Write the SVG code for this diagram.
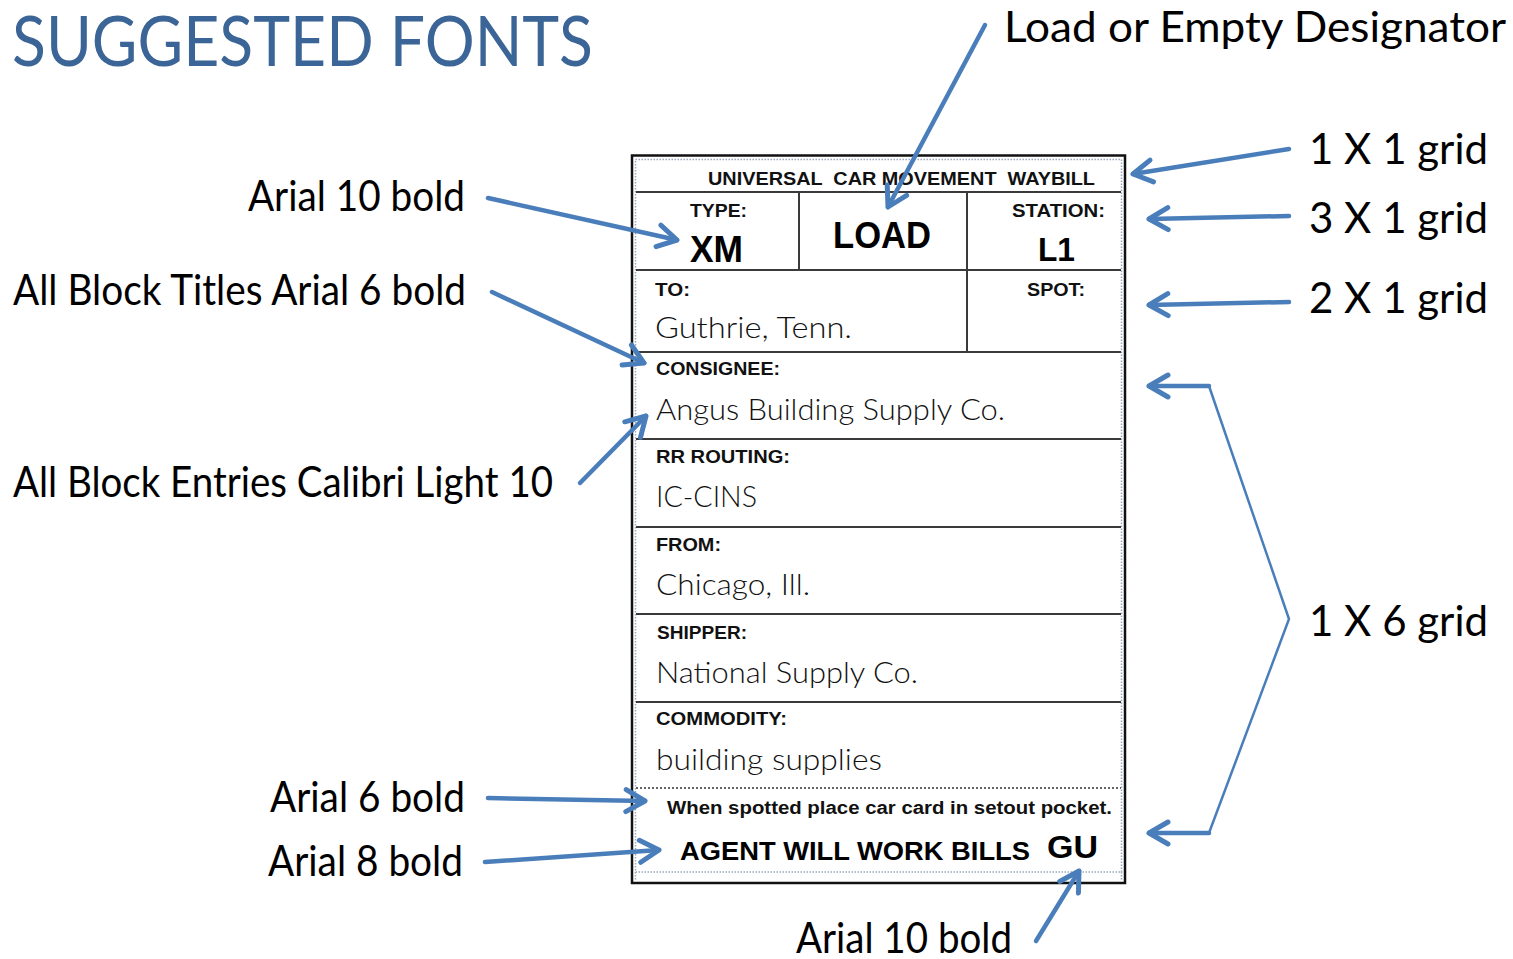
<svg xmlns="http://www.w3.org/2000/svg" width="1513" height="959" viewBox="0 0 1513 959">
<defs>
<style>
.ann{font-family:Lato,"Open Sans","Liberation Sans",sans-serif;font-size:42px;fill:#000}
.ttl{font-family:Lato,"Open Sans","Liberation Sans",sans-serif;font-size:69px;fill:#3b6497}
.lb{font-family:"Liberation Sans",Arial,sans-serif;font-weight:bold;font-size:18px;fill:#111}
.big{font-family:"Liberation Sans",Arial,sans-serif;font-weight:bold;font-size:36px;fill:#000}
.b34{font-size:34px}
.b25{font-size:25px}
.b31{font-size:31px}
.ent{font-family:Lato,"Open Sans","Liberation Sans",sans-serif;font-weight:300;font-size:30px;fill:#111}
.grid{stroke:#3a3a3a;stroke-width:2;fill:none}
.dot{stroke:#9aa8c2;stroke-width:1.5;stroke-dasharray:1.5 1.5;fill:none}
.con{stroke:#4a7ebb;stroke-width:4.5;fill:none;stroke-linecap:round}
.brk{stroke:#4a7ebb;stroke-width:2.5;fill:none;stroke-linejoin:miter}
</style>
<marker id="ah" markerUnits="userSpaceOnUse" viewBox="-26 -15 30 30" refX="0" refY="0" markerWidth="30" markerHeight="30" orient="auto">
<path d="M-19,-11 L0,0 L-19,11" fill="none" stroke="#4a7ebb" stroke-width="5" stroke-linecap="round" stroke-linejoin="round"/>
</marker>
</defs>
<rect width="1513" height="959" fill="#fff"/>

<g id="title">
<text class="ttl" x="12" y="66" textLength="581" lengthAdjust="spacingAndGlyphs">SUGGESTED FONTS</text>
</g>

<g id="card">
<rect x="632" y="155.5" width="493" height="727.5" fill="#fff" stroke="#111" stroke-width="2.5"/>
<rect class="dot" x="635.5" y="159.5" width="486" height="712.5"/>
<line class="dot" x1="635.5" y1="872" x2="635.5" y2="880"/>
<line class="dot" x1="1121.5" y1="872" x2="1121.5" y2="880"/>
<line class="grid" x1="636" y1="192" x2="1121" y2="192"/>
<line class="grid" x1="636" y1="270" x2="1121" y2="270"/>
<line class="grid" x1="636" y1="352" x2="1121" y2="352"/>
<line class="grid" x1="636" y1="439" x2="1121" y2="439"/>
<line class="grid" x1="636" y1="527" x2="1121" y2="527"/>
<line class="grid" x1="636" y1="614" x2="1121" y2="614"/>
<line class="grid" x1="636" y1="702" x2="1121" y2="702"/>
<line x1="636" y1="788" x2="1121" y2="788" stroke="#333" stroke-width="1.5" stroke-dasharray="2 2"/>
<line class="grid" x1="799" y1="192" x2="799" y2="270"/>
<line class="grid" x1="967" y1="192" x2="967" y2="352"/>

<text class="lb" x="708" y="185" xml:space="preserve" textLength="387" lengthAdjust="spacingAndGlyphs">UNIVERSAL  CAR MOVEMENT  WAYBILL</text>
<text class="lb" x="690" y="217" textLength="57" lengthAdjust="spacingAndGlyphs">TYPE:</text>
<text class="big" x="690" y="262" textLength="53" lengthAdjust="spacingAndGlyphs">XM</text>
<text class="big" x="833" y="248" textLength="98" lengthAdjust="spacingAndGlyphs">LOAD</text>
<text class="lb" x="1012" y="217" textLength="93" lengthAdjust="spacingAndGlyphs">STATION:</text>
<text class="big b34" x="1038" y="261" textLength="37" lengthAdjust="spacingAndGlyphs">L1</text>
<text class="lb" x="655" y="296" textLength="35" lengthAdjust="spacingAndGlyphs">TO:</text>
<text class="lb" x="1027" y="296" textLength="58" lengthAdjust="spacingAndGlyphs">SPOT:</text>
<text class="ent" x="655" y="338" textLength="197" lengthAdjust="spacingAndGlyphs">Guthrie, Tenn.</text>
<text class="lb" x="656" y="375" textLength="124" lengthAdjust="spacingAndGlyphs">CONSIGNEE:</text>
<text class="ent" x="656" y="420" textLength="349" lengthAdjust="spacingAndGlyphs">Angus Building Supply Co.</text>
<text class="lb" x="656" y="463" textLength="134" lengthAdjust="spacingAndGlyphs">RR ROUTING:</text>
<text class="ent" x="656" y="507" textLength="101" lengthAdjust="spacingAndGlyphs">IC-CINS</text>
<text class="lb" x="656" y="551" textLength="65" lengthAdjust="spacingAndGlyphs">FROM:</text>
<text class="ent" x="656" y="595" textLength="154" lengthAdjust="spacingAndGlyphs">Chicago, Ill.</text>
<text class="lb" x="657" y="639" textLength="90" lengthAdjust="spacingAndGlyphs">SHIPPER:</text>
<text class="ent" x="656" y="683" textLength="262" lengthAdjust="spacingAndGlyphs">National Supply Co.</text>
<text class="lb" x="656" y="725" textLength="131" lengthAdjust="spacingAndGlyphs">COMMODITY:</text>
<text class="ent" x="656" y="770" textLength="226" lengthAdjust="spacingAndGlyphs">building supplies</text>
<text class="lb" x="667" y="814" textLength="445" lengthAdjust="spacingAndGlyphs">When spotted place car card in setout pocket.</text>
<text class="big b25" x="680" y="860" textLength="350" lengthAdjust="spacingAndGlyphs">AGENT WILL WORK BILLS</text>
<text class="big b31" x="1047" y="858" textLength="51" lengthAdjust="spacingAndGlyphs">GU</text>
</g>

<g id="annotations">
<text class="ann" x="248" y="211" textLength="217" lengthAdjust="spacingAndGlyphs">Arial 10 bold</text>
<text class="ann" x="13" y="305" textLength="453" lengthAdjust="spacingAndGlyphs">All Block Titles Arial 6 bold</text>
<text class="ann" x="13" y="497" textLength="540" lengthAdjust="spacingAndGlyphs">All Block Entries Calibri Light 10</text>
<text class="ann" x="270" y="812" textLength="195" lengthAdjust="spacingAndGlyphs">Arial 6 bold</text>
<text class="ann" x="268" y="876" textLength="195" lengthAdjust="spacingAndGlyphs">Arial 8 bold</text>
<text class="ann" x="796" y="953" textLength="216" lengthAdjust="spacingAndGlyphs">Arial 10 bold</text>
<text class="ann" x="1004" y="42" textLength="502" lengthAdjust="spacingAndGlyphs">Load or Empty Designator</text>
<text class="ann" x="1309" y="164" textLength="179" lengthAdjust="spacingAndGlyphs">1 X 1 grid</text>
<text class="ann" x="1309" y="233" textLength="179" lengthAdjust="spacingAndGlyphs">3 X 1 grid</text>
<text class="ann" x="1309" y="313" textLength="179" lengthAdjust="spacingAndGlyphs">2 X 1 grid</text>
<text class="ann" x="1309" y="636" textLength="179" lengthAdjust="spacingAndGlyphs">1 X 6 grid</text>
</g>

<g id="connectors">
<line class="con" x1="985" y1="25" x2="888" y2="207" marker-end="url(#ah)"/>
<line class="con" x1="488" y1="198" x2="677" y2="240" marker-end="url(#ah)"/>
<line class="con" x1="492" y1="292" x2="644" y2="363" marker-end="url(#ah)"/>
<line class="con" x1="580" y1="483" x2="646" y2="416" marker-end="url(#ah)"/>
<line class="con" x1="488" y1="798" x2="645" y2="801" marker-end="url(#ah)"/>
<line class="con" x1="485" y1="862" x2="659" y2="850" marker-end="url(#ah)"/>
<line class="con" x1="1036" y1="941" x2="1079" y2="871" marker-end="url(#ah)"/>
<line class="con" x1="1289" y1="149" x2="1133" y2="174" marker-end="url(#ah)"/>
<line class="con" x1="1289" y1="216" x2="1149" y2="219" marker-end="url(#ah)"/>
<line class="con" x1="1289" y1="302" x2="1149" y2="305" marker-end="url(#ah)"/>
<polyline class="brk" points="1209,386 1289,619 1209,833"/>
<line class="con" x1="1209" y1="386" x2="1149" y2="386" marker-end="url(#ah)"/>
<line class="con" x1="1209" y1="833" x2="1149" y2="833" marker-end="url(#ah)"/>
</g>
</svg>
